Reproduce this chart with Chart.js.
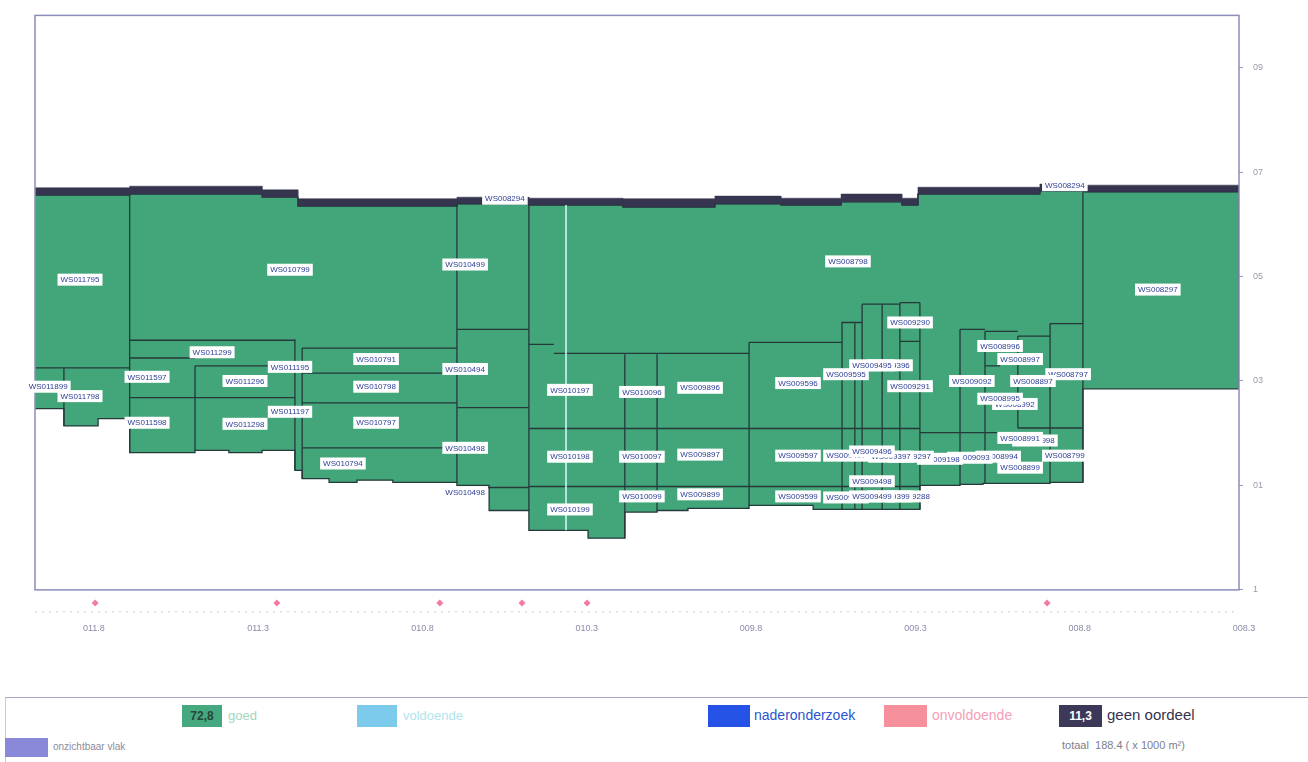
<!DOCTYPE html>
<html lang="nl">
<head>
<meta charset="UTF-8">
<title>Dwarsprofiel bekleding</title>
<script src="https://cdn.jsdelivr.net/npm/chart.js"></script>
<style>
  body { margin: 0; background: #fff; font-family: Arial, "Liberation Sans", sans-serif; }
  #wrap { position: relative; width: 1308px; height: 762px; overflow: hidden; }
  #plot { position: absolute; left: 0; top: 0; width: 1308px; height: 690px; }
  .box { position: absolute; left: 5px; top: 697px; width: 1303px; height: 65px;
         border-top: 1px solid #a6a6ca; border-left: 1px solid #c8c8dc; }
  .sw { position: absolute; height: 22px; top: 705px; font-size: 12px; font-weight: bold;
        line-height: 22px; text-align: center; }
  .lt { position: absolute; white-space: nowrap; }
</style>
</head>
<body>
<div id="wrap">
  <div id="plot"><canvas id="profile"></canvas></div>
  <div class="box"></div>
  <div class="sw" style="left:182px;width:40px;background:#45a87e;color:#27473a">72,8</div>
  <div class="lt" style="left:228px;top:708px;font-size:13px;color:#9fd6bd">goed</div>
  <div class="sw" style="left:357px;width:40px;background:#7ccbec"></div>
  <div class="lt" style="left:403px;top:708px;font-size:13px;color:#b0e4ee">voldoende</div>
  <div class="sw" style="left:708px;width:42px;background:#2453e6"></div>
  <div class="lt" style="left:754px;top:707px;font-size:14px;color:#2a55d0">naderonderzoek</div>
  <div class="sw" style="left:884px;width:43px;background:#f6909c"></div>
  <div class="lt" style="left:932px;top:707px;font-size:14px;color:#f4a0b8">onvoldoende</div>
  <div class="sw" style="left:1059px;width:43px;background:#3b3957;color:#fff">11,3</div>
  <div class="lt" style="left:1107px;top:706px;font-size:15px;color:#34344f">geen oordeel</div>
  <div class="sw" style="left:5px;top:738px;height:19px;width:43px;background:#8a88d8"></div>
  <div class="lt" style="left:53px;top:741px;font-size:10px;color:#8b8b9c">onzichtbaar vlak</div>
  <div class="lt" style="left:1062px;top:739px;font-size:11px;color:#7e7e8e">totaal&nbsp;&nbsp;188.4 ( x 1000 m²)</div>
</div>
<script>
// as: hectometrering (loopt af naar rechts), hoogte op rechteras
const xTickValues = [11.8, 11.3, 10.8, 10.3, 9.8, 9.3, 8.8, 8.3];
const xTickLabels = ['011.8', '011.3', '010.8', '010.3', '009.8', '009.3', '008.8', '008.3'];
const yTickValues = [-0.1, 0.1, 0.3, 0.5, 0.7, 0.9];
const yTickLabels = ['1', '01', '03', '05', '07', '09'];
const frameBottom = -0.1;

// bovenrand: strook "geen oordeel" (trapvorm, grenzen + niveaus)
const topX = [11.964, 11.676, 11.273, 11.164, 10.680, 10.461, 10.175, 9.895, 9.694, 9.511, 9.326, 9.277, 8.906, 8.769, 8.3];
const topOuter = [0.670, 0.673, 0.666, 0.649, 0.652, 0.650, 0.649, 0.654, 0.650, 0.658, 0.650, 0.671, 0.677, 0.675];
const topInner = [0.656, 0.658, 0.652, 0.635, 0.639, 0.637, 0.633, 0.639, 0.637, 0.643, 0.637, 0.658, 0.664, 0.662];

// onderrand van het beoordeelde vlak "goed"
const botX = [11.964, 11.876, 11.772, 11.676, 11.477, 11.374, 11.273, 11.173, 11.151, 11.069, 10.984, 10.875, 10.680,
              10.582, 10.461, 10.281, 10.169, 10.071, 9.977, 9.791, 9.596, 9.271, 9.149, 9.079, 8.875, 8.775, 8.3];
const botY = [0.247, 0.214, 0.228, 0.163, 0.167, 0.163, 0.167, 0.129, 0.113, 0.106, 0.110, 0.106, 0.100,
              0.052, 0.014, -0.001, 0.049, 0.052, 0.056, 0.062, 0.054, 0.100, 0.102, 0.104, 0.106, 0.285];

// vakgrenzen
const vLineX = [11.676, 11.876, 11.477, 11.173, 11.151, 10.680, 10.461, 10.169, 10.071, 9.791, 9.508, 9.469, 9.447,
                9.386, 9.332, 9.271, 9.149, 9.073, 8.973, 8.875, 8.775];
const vLineFrom = [0.163, 0.214, 0.167, 0.129, 0.113, 0.106, 0.052, -0.001, 0.052, 0.062, 0.054, 0.054, 0.054,
                   0.054, 0.054, 0.054, 0.102, 0.104, 0.210, 0.104, 0.106];
const vLineTo = [0.658, 0.325, 0.329, 0.380, 0.363, 0.639, 0.639, 0.351, 0.351, 0.374, 0.414, 0.410, 0.447,
                 0.447, 0.450, 0.450, 0.399, 0.395, 0.386, 0.410, 0.664];
const hLineY = [0.325, 0.378, 0.363, 0.344, 0.329, 0.268, 0.315, 0.258, 0.172, 0.399, 0.249, 0.096, 0.370, 0.353,
                0.374, 0.209, 0.201, 0.210, 0.098, 0.412, 0.447, 0.450, 0.376, 0.399, 0.395, 0.386, 0.410, 0.329];
const hLineFrom = [11.964, 11.676, 11.151, 11.676, 11.477, 11.676, 11.151, 11.151, 11.151, 10.680, 10.680, 10.680, 10.461, 10.385,
                   9.791, 10.461, 9.271, 8.973, 10.461, 9.508, 9.447, 9.332, 9.332, 9.149, 9.073, 8.973, 8.875, 9.073];
const hLineTo = [11.676, 11.173, 10.680, 11.477, 11.173, 11.173, 10.680, 10.680, 10.680, 10.461, 10.461, 10.461, 10.385, 9.791,
                 9.508, 9.271, 8.973, 8.775, 9.271, 9.447, 9.332, 9.271, 9.271, 9.073, 8.973, 8.875, 8.775, 9.027];

// vaknamen (volgorde = tekenvolgorde, latere liggen erbovenop)
const labelText = ['WS011795', 'WS010799', 'WS010499', 'WS008294', 'WS008798', 'WS008294', 'WS008297',
  'WS011299', 'WS010791', 'WS011195', 'WS011597', 'WS011296', 'WS010798', 'WS010494', 'WS011899', 'WS011798',
  'WS011197', 'WS011598', 'WS011298', 'WS010797', 'WS010498', 'WS010794', 'WS010498',
  'WS010197', 'WS010198', 'WS010199', 'WS010096', 'WS010097', 'WS010099', 'WS009896', 'WS009897', 'WS009899',
  'WS009596', 'WS009597', 'WS009599', 'WS009290', 'WS009291', 'WS009595', 'WS009396', 'WS009495',
  'WS008799', 'WS008994', 'WS009093', 'WS009198', 'WS009297', 'WS009397', 'WS009497', 'WS009496', 'WS009498',
  'WS009288', 'WS009399', 'WS009598', 'WS009499',
  'WS008797', 'WS008996', 'WS008997', 'WS009092', 'WS008897', 'WS008992', 'WS008995', 'WS008998', 'WS008991', 'WS008899'];
const labelX = [11.827, 11.188, 10.655, 10.534, 9.490, 8.830, 8.547,
  11.425, 10.926, 11.188, 11.623, 11.325, 10.926, 10.655, 11.924, 11.827,
  11.188, 11.623, 11.325, 10.926, 10.655, 11.027, 10.655,
  10.336, 10.336, 10.336, 10.117, 10.117, 10.117, 9.940, 9.940, 9.940,
  9.642, 9.642, 9.642, 9.301, 9.301, 9.496, 9.362, 9.417,
  8.830, 9.033, 9.119, 9.210, 9.298, 9.359, 9.496, 9.417, 9.417,
  9.301, 9.362, 9.496, 9.417,
  8.820, 9.027, 8.966, 9.113, 8.927, 8.982, 9.027, 8.921, 8.966, 8.966];
const labelY = [0.494, 0.513, 0.523, 0.649, 0.529, 0.675, 0.475,
  0.355, 0.342, 0.327, 0.308, 0.300, 0.289, 0.323, 0.289, 0.271,
  0.241, 0.220, 0.218, 0.220, 0.172, 0.142, 0.087,
  0.283, 0.155, 0.054, 0.279, 0.155, 0.079, 0.287, 0.159, 0.083,
  0.296, 0.157, 0.079, 0.412, 0.290, 0.313, 0.330, 0.330,
  0.157, 0.155, 0.153, 0.151, 0.155, 0.155, 0.157, 0.165, 0.108,
  0.079, 0.079, 0.077, 0.079,
  0.313, 0.367, 0.342, 0.300, 0.300, 0.256, 0.266, 0.186, 0.191, 0.134];

// hectometerpaaltjes onder de as
const markerKm = [11.781, 11.228, 10.732, 10.482, 10.284, 8.884];
const markerLevel = -0.125;
const baseLevel = -0.142;
const cursorKm = 10.348;

function stepped(xs, ys, reverse) {
  const pts = [];
  for (let i = 0; i < ys.length; i++) {
    pts.push({x: xs[i], y: ys[i]});
    pts.push({x: xs[i + 1], y: ys[i]});
  }
  return reverse ? pts.reverse() : pts;
}

const bandPts = stepped(topX, topOuter, false).concat(stepped(topX, topInner, true));
const bodyPts = stepped(topX, topInner, false).concat(stepped(botX, botY, true));

const gridPts = [];
vLineX.forEach((x, i) => {
  gridPts.push({x: x, y: vLineFrom[i]}, {x: x, y: vLineTo[i]}, {x: x, y: null});
});
hLineY.forEach((y, i) => {
  gridPts.push({x: hLineFrom[i], y: y}, {x: hLineTo[i], y: y}, {x: hLineTo[i], y: null});
});

// kader om het profielvak (onderkant op -0.1, paaltjes staan eronder)
const frame = {
  id: 'frame',
  afterDatasetsDraw(chart) {
    const a = chart.chartArea, ctx = chart.ctx;
    const bottom = chart.scales.y.getPixelForValue(frameBottom);
    ctx.save();
    ctx.strokeStyle = '#8c8cbc';
    ctx.lineWidth = 1.5;
    ctx.strokeRect(a.left, a.top, a.right - a.left, bottom - a.top);
    ctx.restore();
  }
};

const vakLabels = {
  id: 'vakLabels',
  afterDatasetsDraw(chart) {
    const ctx = chart.ctx, xs = chart.scales.x, ys = chart.scales.y;
    ctx.save();
    ctx.font = '8px Arial, "Liberation Sans", sans-serif';
    ctx.textBaseline = 'middle';
    ctx.textAlign = 'center';
    labelText.forEach((t, i) => {
      const px = xs.getPixelForValue(labelX[i]);
      const py = ys.getPixelForValue(labelY[i]);
      const w = ctx.measureText(t).width + 6;
      ctx.fillStyle = '#ffffff';
      ctx.fillRect(px - w / 2, py - 6, w, 12);
      ctx.fillStyle = '#2b3c94';
      ctx.fillText(t, px, py + 0.5);
    });
    ctx.restore();
  }
};

new Chart(document.getElementById('profile'), {
  type: 'scatter',
  data: {
    datasets: [
      {
        label: 'paal',
        data: markerKm.map(k => ({x: k, y: markerLevel})),
        pointStyle: 'rectRot', pointRadius: 3.5, backgroundColor: '#f27aa3', borderWidth: 0,
        order: 0
      },
      {
        label: 'as',
        data: [{x: 11.964, y: baseLevel}, {x: 8.3, y: baseLevel}],
        showLine: true, pointRadius: 0, borderColor: '#c9c9da', borderWidth: 1, borderDash: [2, 5],
        order: 1
      },
      {
        label: 'cursor',
        data: [{x: cursorKm, y: 0.014}, {x: cursorKm, y: 0.637}],
        showLine: true, pointRadius: 0, borderColor: '#d6fafa', borderWidth: 1.5, order: 2
      },
      {
        label: 'vakgrenzen',
        data: gridPts,
        showLine: true, spanGaps: false, pointRadius: 0, borderColor: '#25383a', borderWidth: 1.3, order: 3
      },
      {
        label: 'geen oordeel',
        data: bandPts,
        showLine: true, pointRadius: 0, borderWidth: 0.5, borderColor: '#30304a',
        backgroundColor: '#35354f', fill: 'shape', order: 4
      },
      {
        label: 'goed',
        data: bodyPts,
        showLine: true, pointRadius: 0, borderWidth: 1.3, borderColor: '#25383a',
        backgroundColor: '#42a67a', fill: 'shape', order: 5
      }
    ]
  },
  options: {
    responsive: true,
    maintainAspectRatio: false,
    animation: false,
    layout: { padding: { left: 35, top: 12 } },
    plugins: { legend: { display: false }, tooltip: { enabled: false } },
    scales: {
      x: {
        type: 'linear', reverse: true, min: 8.3, max: 11.964,
        afterBuildTicks: s => { s.ticks = xTickValues.map(v => ({value: v})); },
        afterFit: s => { s.height = 74; },
        grid: { display: false, drawTicks: false },
        border: { display: false },
        ticks: {
          autoSkip: false, maxRotation: 0, padding: 7, labelOffset: 5,
          color: '#8a8aaa', font: { size: 9 },
          callback: (v, i) => xTickLabels[i]
        }
      },
      y: {
        type: 'linear', position: 'right', min: -0.15, max: 1.0,
        afterBuildTicks: s => { s.ticks = yTickValues.map(v => ({value: v})); },
        afterFit: s => { s.width = 69; },
        grid: { drawOnChartArea: false, drawTicks: true, tickLength: 4, color: '#9a9ac4' },
        border: { display: false },
        ticks: {
          padding: 10, color: '#9a9aaa', font: { size: 9 },
          callback: (v, i) => yTickLabels[i]
        }
      }
    }
  },
  plugins: [frame, vakLabels]
});
</script>
</body>
</html>
